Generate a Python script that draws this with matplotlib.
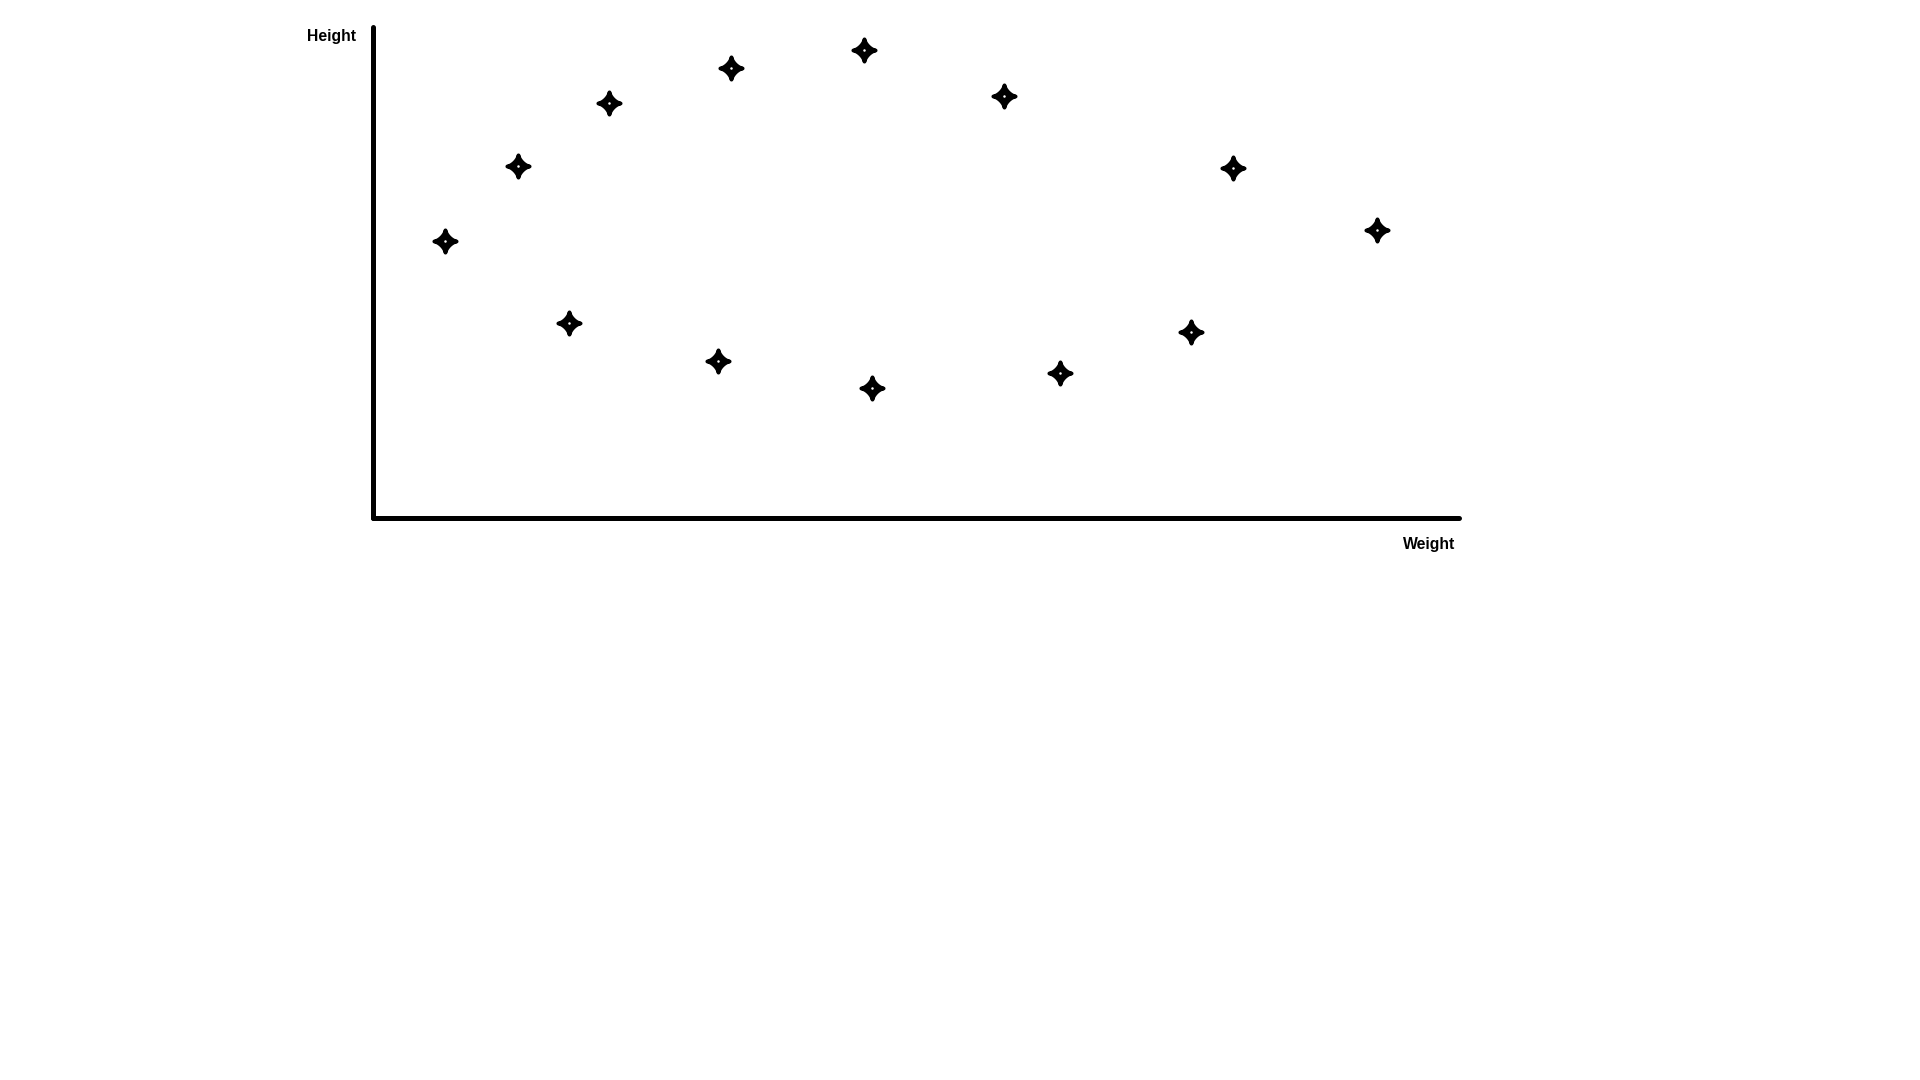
import numpy as np
import matplotlib
matplotlib.use("Agg")
import matplotlib.pyplot as plt
from matplotlib.path import Path

weight = [6.69, 13.39, 18.08, 21.75, 31.77, 32.96, 45.18, 45.92, 58.04, 63.19, 75.22, 79.08, 92.31]
height = [56.4, 71.7, 39.7, 84.5, 32.0, 91.6, 95.3, 26.5, 85.9, 29.6, 37.9, 71.3, 58.7]

x_label = "Weight"
y_label = "Height"

# concave four-pointed star marker
t = np.linspace(0, 2 * np.pi, 240)
k = 2.9
sx = np.sign(np.cos(t)) * np.abs(np.cos(t)) ** k
sy = np.sign(np.sin(t)) * np.abs(np.sin(t)) ** k
star = Path(np.column_stack([sx, sy]), closed=True)

fig = plt.figure(figsize=(19.2, 10.8), dpi=100)
W, H = 1920, 1080
left, right, top, bottom = 372.5, 1458.5, 27.5, 518
ax = fig.add_axes([left / W, 1 - bottom / H, (right - left) / W, (bottom - top) / H])
ax.set_xlim(0, 99.77)
ax.set_ylim(0, 99.9)

ax.plot(weight, height, linestyle="none", marker=star, markersize=16,
        color="black", markeredgewidth=2.8, markeredgecolor="black")
ax.plot(weight, height, linestyle="none", marker="o", markersize=1.8,
        color="white", markeredgewidth=0)

for side in ["top", "right"]:
    ax.spines[side].set_visible(False)
for side in ["left", "bottom"]:
    ax.spines[side].set_linewidth(3.6)
    ax.spines[side].set_color("black")
    ax.spines[side].set_capstyle("round")
ax.set_xticks([])
ax.set_yticks([])
ax.patch.set_visible(False)

font = ["Liberation Sans", "DejaVu Sans"]
fig.text(356 / W, 1 - 41 / H, y_label, ha="right", va="baseline",
         fontsize=11.3, fontweight="bold", family=font)
fig.text(1455 / W, 1 - 549 / H, x_label, ha="right", va="baseline",
         fontsize=11.3, fontweight="bold", family=font)

fig.savefig("out.png", dpi=100, facecolor="white")
